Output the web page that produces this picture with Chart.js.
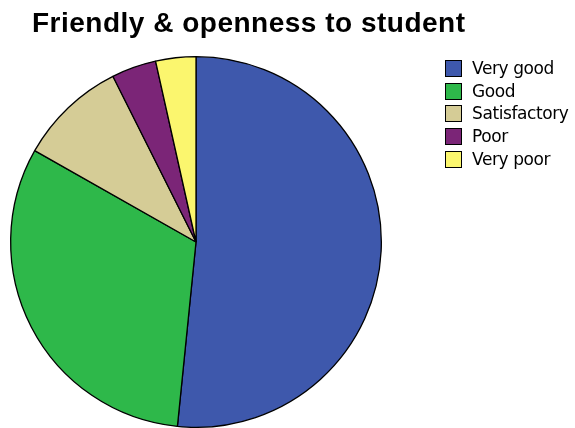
<!DOCTYPE html>
<html>
<head>
<meta charset="utf-8">
<script src="https://cdn.jsdelivr.net/npm/chart.js@4/dist/chart.umd.min.js"></script>
<style>
  body { margin: 0; background: #fff; }
  #wrap { position: relative; width: 575px; height: 428px; overflow: hidden; }
  #pie { position: absolute; left: 0; top: 0; }
  #title {
    position: absolute; left: 32px; top: 9px;
    font: bold 28px "Liberation Sans", Arial, sans-serif;
    line-height: 28px; letter-spacing: 0.5px; color: #000; white-space: nowrap;
  }
  #legend { position: absolute; left: 445px; top: 60px; }
  .row { position: relative; height: 22.7px; }
  .box { position: absolute; left: 0; top: 0; width: 15px; height: 15px; border: 1px solid #000; }
  .lbl {
    position: absolute; left: 27px; top: -1px; white-space: nowrap;
    font: 17px "DejaVu Sans", sans-serif; line-height: 19px; letter-spacing: -0.4px; color: #000;
  }
</style>
</head>
<body>
<div id="wrap">
  <canvas id="pie" width="575" height="428"></canvas>
  <div id="title">Friendly &amp; openness to student</div>
  <div id="legend"></div>
</div>
<script>
var labels = ["Very good", "Good", "Satisfactory", "Poor", "Very poor"];
var percents = [51.6, 31.6, 9.4, 3.9, 3.5];
var colors = ["#3e58ac", "#2eb84a", "#d5cc96", "#7b2577", "#fbf66e"];

// legend built from the same arrays
var legendDiv = document.getElementById('legend');
for (var i = 0; i < labels.length; i++) {
  var row = document.createElement('div');
  row.className = 'row';
  var box = document.createElement('div');
  box.className = 'box';
  box.style.background = colors[i];
  var lbl = document.createElement('div');
  lbl.className = 'lbl';
  lbl.textContent = labels[i];
  row.appendChild(box);
  row.appendChild(lbl);
  legendDiv.appendChild(row);
}

new Chart(document.getElementById('pie').getContext('2d'), {
  type: 'pie',
  data: {
    labels: labels,
    datasets: [{
      data: percents,
      backgroundColor: colors,
      borderColor: '#000',
      borderWidth: 1.3
    }]
  },
  options: {
    responsive: false,
    animation: false,
    devicePixelRatio: 1,
    layout: { padding: { left: 10, top: 56, right: 193, bottom: 0 } },
    plugins: {
      legend: { display: false },
      title: { display: false },
      tooltip: { enabled: false }
    }
  }
});
</script>
</body>
</html>
